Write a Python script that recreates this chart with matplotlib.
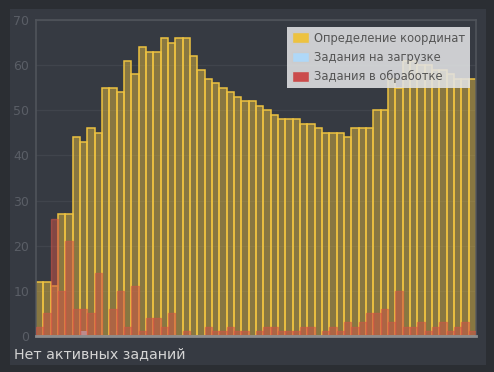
import matplotlib.pyplot as plt
from matplotlib.patches import Patch, Rectangle
import numpy as np

# data: one bar per minute, 60 bars
coords = [12, 12, 11, 27, 27, 44, 43, 46, 45, 55, 55, 54, 61, 58, 64, 63, 63, 66, 65, 66,
          66, 62, 59, 57, 56, 55, 54, 53, 52, 52, 51, 50, 49, 48, 48, 48, 47, 47, 46, 45,
          45, 45, 44, 46, 46, 46, 50, 50, 57, 55, 61, 61, 60, 60, 59, 59, 58, 57, 57, 57]
loading = [0, 0, 0, 0, 0, 0, 1, 0, 0, 0, 0, 0, 0, 0, 0, 0, 0, 0, 0, 0,
           0, 0, 0, 0, 0, 0, 0, 0, 0, 0, 0, 0, 0, 0, 0, 0, 0, 0, 0, 0,
           0, 0, 0, 0, 0, 0, 0, 0, 0, 0, 0, 0, 0, 0, 0, 0, 0, 0, 0, 0]
processing = [2, 5, 26, 10, 21, 6, 6, 5, 14, 0, 6, 10, 2, 11, 1, 4, 4, 2, 5, 0,
              1, 0, 0, 2, 1, 1, 2, 1, 1, 0, 1, 2, 2, 1, 1, 1, 2, 2, 0, 1,
              2, 1, 3, 2, 3, 5, 5, 6, 3, 10, 2, 2, 3, 1, 2, 3, 1, 2, 3, 1]
labels = ['Определение координат', 'Задания на загрузке', 'Задания в обработке']
yticks = [0, 10, 20, 30, 40, 50, 60, 70]
status = 'Нет активных заданий'

yellow = '#edc240'
blue = '#afd8f8'
red = '#cb4b4b'
outer_bg = '#2b2e33'
panel_bg = '#363a42'

fig = plt.figure(figsize=(4.94, 3.72), dpi=100, facecolor=outer_bg)
# inner panel
fig.patches.append(Rectangle((10 / 494, 1 - 365 / 372), 476 / 494, 356 / 372,
                             transform=fig.transFigure, facecolor=panel_bg,
                             edgecolor='none', zorder=-10))

ax = fig.add_axes([36 / 494, 1 - 336 / 372, 440 / 494, 316 / 372])
ax.set_zorder(1)
ax.set_facecolor(panel_bg)

x = np.arange(len(coords))
ax.bar(x, coords, width=1, align='edge', color=yellow, alpha=0.45, linewidth=0, zorder=2)
ax.bar(x, coords, width=1, align='edge', fill=False, edgecolor=yellow, linewidth=1.1, zorder=2)
ax.bar(x, loading, width=1, align='edge', color=blue, alpha=0.8, linewidth=0, zorder=3)
ax.bar(x, processing, width=1, align='edge', color=(0.82, 0.33, 0.28, 0.5),
       edgecolor=(0.82, 0.33, 0.28, 0.55), linewidth=1.0, zorder=4)

ax.set_xlim(0, len(coords))
ax.set_ylim(0, 70)
ax.set_yticks(yticks)
ax.set_xticks([])
ax.tick_params(axis='y', length=0, colors='#5a5e66', labelsize=9, pad=5)
ax.grid(axis='y', color='#40444c', linewidth=1, zorder=0)
ax.set_axisbelow(True)
for s in ['top', 'left', 'right']:
    ax.spines[s].set_color('#50545b')
    ax.spines[s].set_linewidth(1.2)
ax.spines['bottom'].set_color('#8c8c8e')
ax.spines['bottom'].set_linewidth(2)
ax.spines['bottom'].set_zorder(5)

handles = [Patch(facecolor=yellow, edgecolor='#cccccc'),
           Patch(facecolor=blue, edgecolor='#cccccc'),
           Patch(facecolor=red, edgecolor='#cccccc')]
leg = ax.legend(handles, labels, loc='upper right', bbox_to_anchor=(0.986, 0.978),
                borderaxespad=0, fontsize=8.3, frameon=True, fancybox=False,
                facecolor='#e2e3e5', framealpha=0.88, edgecolor='none',
                handlelength=1.5, handleheight=1.05, handletextpad=0.45,
                labelspacing=0.55, borderpad=0.4)
leg.set_zorder(10)
for t in leg.get_texts():
    t.set_color('#555555')

fig.text(14 / 494, 1 - 354 / 372, status, color='#d4d4d4', fontsize=10.3, va='center', ha='left')

fig.savefig('out.png', dpi=100, facecolor=outer_bg)
